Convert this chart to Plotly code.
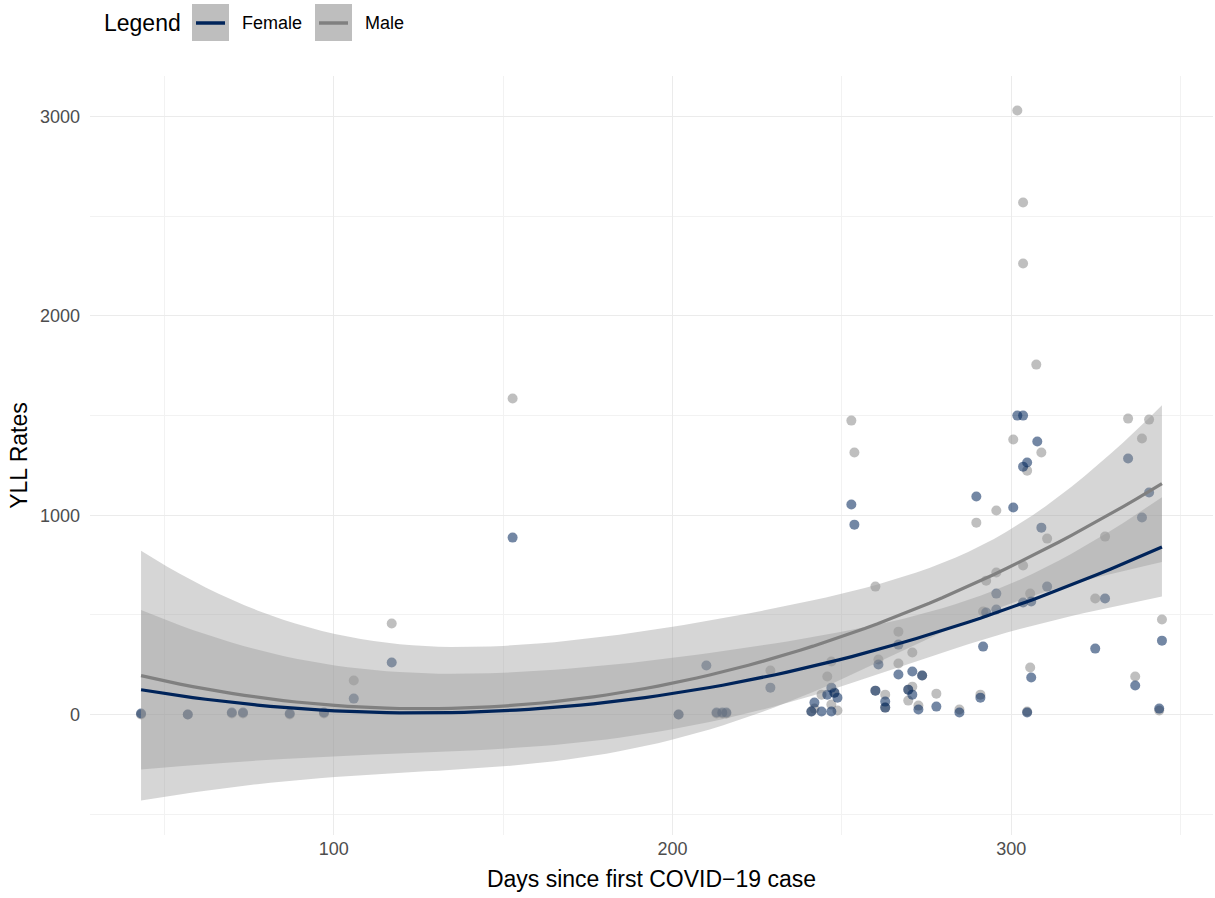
import numpy as np
import plotly.graph_objects as go

# Days since first case and YLL rates, by sex
female_days = [43.1, 56.9, 69.9, 73.2, 87.0, 97.1, 105.9, 117.1, 152.8, 201.8,
               210.0, 213.0, 214.7, 215.9, 228.9, 241.0, 241.9, 244.0, 245.7, 246.9,
               246.9, 247.8, 248.7, 252.8, 253.7, 259.9, 260.8, 262.8, 262.8, 266.7,
               266.7, 269.6, 270.8, 270.8, 272.6, 273.7, 277.9, 284.7, 289.7, 290.9,
               291.7, 292.6, 295.6, 295.6, 300.6, 301.8, 303.5, 303.5, 304.7, 303.5,
               305.9, 305.9, 304.7, 307.7, 308.9, 310.6, 324.8, 327.7, 334.5, 336.6,
               338.6, 340.7, 343.7, 344.5]
female_yll = [5, 0, 10, 10, 5, 10, 80, 261, 888, 0,
              246, 10, 10, 10, 135, 15, 60, 15, 100, 135,
              15, 110, 85, 1054, 953, 120, 251, 65, 35, 351,
              201, 125, 216, 100, 25, 196, 40, 10, 1094, 85,
              341, 512, 607, 527, 1039, 1500, 1500, 1244, 1265, 562,
              567, 186, 10, 1370, 938, 642, 331, 582, 1285, 146,
              989, 1114, 30, 371]

male_days = [43.1, 56.9, 69.9, 73.2, 87.0, 97.1, 105.9, 117.1, 152.8, 201.8,
             213.0, 214.7, 215.9, 228.9, 241.0, 241.9, 244.0, 245.7, 246.9, 246.9,
             247.8, 248.7, 252.8, 253.7, 259.9, 259.9, 260.8, 262.8, 262.8, 266.7,
             266.7, 269.6, 269.6, 270.8, 270.8, 272.6, 273.7, 277.9, 284.7, 289.7,
             290.9, 291.7, 292.6, 295.6, 295.6, 300.6, 301.8, 303.5, 303.5, 303.5,
             304.7, 304.7, 305.6, 305.6, 307.4, 308.9, 310.6, 324.8, 327.7, 334.5,
             336.6, 338.6, 340.7, 343.7, 344.5]
male_yll = [0, 0, 5, 5, 0, 5, 171, 457, 1586, 0,
            5, 5, 5, 221, 15, 30, 100, 191, 266, 50,
            110, 20, 1475, 1315, 642, 120, 276, 100, 35, 416,
            256, 70, 125, 311, 140, 45, 196, 105, 25, 963,
            100, 517, 672, 1024, 713, 1380, 3031, 2569, 2263, 748,
            1224, 15, 607, 236, 1756, 1315, 883, 582, 893, 1485,
            191, 1385, 1480, 20, 477]

series = [
    dict(name="Female", x=female_days, y=female_yll,
         point="rgba(0,37,90,0.55)", line="#00245A"),
    dict(name="Male", x=male_days, y=male_yll,
         point="rgba(128,128,128,0.5)", line="#808080"),
]


def t_quantile(df, z=1.959964):
    # Cornish-Fisher expansion of the Student t 97.5% quantile
    return (z + (z**3 + z) / (4 * df)
            + (5 * z**5 + 16 * z**3 + 3 * z) / (96 * df**2)
            + (3 * z**7 + 19 * z**5 + 17 * z**3 - 15 * z) / (384 * df**3))


def quad_smooth(x, y, n=80):
    # lm(y ~ poly(x, 2)) with a 95% confidence band
    x = np.asarray(x, float)
    y = np.asarray(y, float)
    xc = x.mean()
    X = np.column_stack([np.ones_like(x), x - xc, (x - xc) ** 2])
    beta, *_ = np.linalg.lstsq(X, y, rcond=None)
    resid = y - X @ beta
    df = len(x) - 3
    cov = (resid @ resid / df) * np.linalg.inv(X.T @ X)
    grid = np.linspace(x.min(), x.max(), n)
    G = np.column_stack([np.ones_like(grid), grid - xc, (grid - xc) ** 2])
    fit = G @ beta
    se = np.sqrt(np.einsum("ij,jk,ik->i", G, cov, G))
    t = t_quantile(df)
    return grid, fit, fit - t * se, fit + t * se


fig = go.Figure()
smooths = []
# male points first so the female points sit on top
for s in series[::-1]:
    fig.add_trace(go.Scatter(
        x=s["x"], y=s["y"], mode="markers", name=s["name"], showlegend=False,
        marker=dict(size=10, color=s["point"], line=dict(width=0)),
        hoverinfo="x+y"))
for s in series:
    smooths.append(quad_smooth(s["x"], s["y"]))

for s, (grid, fit, lo, hi) in zip(series, smooths):
    fig.add_trace(go.Scatter(
        x=np.concatenate([grid, grid[::-1]]),
        y=np.concatenate([hi, lo[::-1]]),
        fill="toself", fillcolor="rgba(153,153,153,0.4)",
        line=dict(width=0), mode="lines", showlegend=False, hoverinfo="skip"))

for s, (grid, fit, lo, hi) in zip(series, smooths):
    fig.add_trace(go.Scatter(
        x=grid, y=fit, mode="lines", name=s["name"], showlegend=False,
        line=dict(color=s["line"], width=3.2)))

# axis limits with 5% padding on each side
all_x = np.concatenate([np.asarray(s["x"], float) for s in series])
x0, x1 = all_x.min(), all_x.max()
xpad = 0.05 * (x1 - x0)
y_lo = min(min(min(s_["y"]) for s_ in series), min(sm[2].min() for sm in smooths))
y_hi = max(max(max(s_["y"]) for s_ in series), max(sm[3].max() for sm in smooths))
ypad = 0.05 * (y_hi - y_lo)

W, H = 1215, 898
ML, MR, MT, MB = 90, 2, 76, 63
PW, PH = W - ML - MR, H - MT - MB


def px(xp):
    return (xp - ML) / PW


def py(yp):
    return (H - MB - yp) / PH


FONT = "Liberation Sans, Arial, sans-serif"
grid_major = "#EBEBEB"
grid_minor = "#F2F2F2"
tick_font = dict(family=FONT, size=18, color="#4D4D4D")
title_font = dict(family=FONT, size=23, color="#000000")

fig.update_xaxes(
    range=[x0 - xpad, x1 + xpad], tickvals=[100, 200, 300],
    showgrid=True, gridcolor=grid_major, gridwidth=1.4,
    minor=dict(tickvals=[50, 150, 250, 350], showgrid=True,
               gridcolor=grid_minor, gridwidth=0.8),
    zeroline=False, showline=False, ticks="", tickfont=tick_font,
    ticklabelstandoff=1,
    title=dict(text="Days since first COVID\u221219 case", font=title_font, standoff=12))
fig.update_yaxes(
    range=[y_lo - ypad, y_hi + ypad], tickvals=[0, 1000, 2000, 3000],
    showgrid=True, gridcolor=grid_major, gridwidth=1.4,
    minor=dict(tickvals=[-500, 500, 1500, 2500], showgrid=True,
               gridcolor=grid_minor, gridwidth=0.8),
    zeroline=False, showline=False, ticks="", tickfont=tick_font,
    ticklabelstandoff=9,
    title=dict(text="YLL Rates", font=title_font, standoff=5))

# legend drawn as key boxes with line swatches
shapes = []
annotations = [dict(text="Legend", x=px(102), y=py(23), xref="paper", yref="paper",
                    xanchor="left", yanchor="middle", showarrow=False,
                    font=dict(family=FONT, size=23, color="#000000"))]
key_left = [192, 315]
for s, kl in zip(series, key_left):
    shapes.append(dict(type="rect", xref="paper", yref="paper",
                       x0=px(kl), x1=px(kl + 37), y0=py(41), y1=py(4),
                       fillcolor="#BEBEBE", line=dict(width=0), layer="above"))
    shapes.append(dict(type="line", xref="paper", yref="paper",
                       x0=px(kl + 4), x1=px(kl + 33), y0=py(23), y1=py(23),
                       line=dict(color=s["line"], width=3.5), layer="above"))
    annotations.append(dict(text=s["name"], x=px(kl + 48), y=py(23),
                            xref="paper", yref="paper", xanchor="left",
                            yanchor="middle", showarrow=False,
                            font=dict(family=FONT, size=18, color="#000000")))

fig.update_layout(
    width=W, height=H, margin=dict(l=ML, r=MR, t=MT, b=MB),
    paper_bgcolor="white", plot_bgcolor="white",
    shapes=shapes, annotations=annotations, showlegend=False)

fig.write_html("out.html")
